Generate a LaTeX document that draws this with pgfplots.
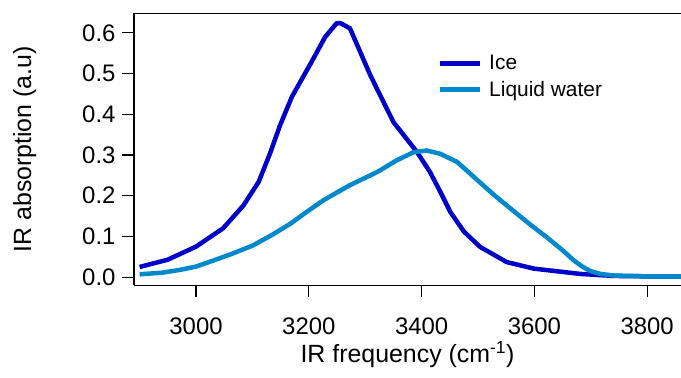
\documentclass[border=0pt]{standalone}
\usepackage{fontspec}
\setmainfont{Liberation Sans}
\usepackage{pgfplots}
\pgfplotsset{compat=1.18}
\definecolor{icecol}{RGB}{0,0,200}
\definecolor{liqcol}{RGB}{0,136,204}
\begin{document}
\begin{tikzpicture}
\begin{axis}[
  name=ax,
  scale only axis,
  width=547bp, height=272bp,
  xmin=2890, xmax=3860,
  ymin=-0.02, ymax=0.648,
  axis y line*=left, axis x line*=box,
  xtick pos=bottom, ytick pos=left,
  tick align=outside,
  major tick length=12bp,
  xtick={3000,3200,3400,3600,3800},
  ytick={0,0.1,0.2,0.3,0.4,0.5,0.6},
  minor tick num=0,
  /pgf/number format/assume math mode=true,
  xticklabel style={/pgf/number format/1000 sep={}, font=\fontsize{24}{28}\selectfont, yshift=-17bp},
  yticklabel style={/pgf/number format/fixed, /pgf/number format/fixed zerofill, /pgf/number format/precision=1, font=\fontsize{24}{28}\selectfont, xshift=-3bp},
  xlabel={IR frequency (cm\textsuperscript{-1})},
  ylabel={IR absorption (a.u)},
  xlabel style={font=\fontsize{25}{28}\selectfont, at={(axis description cs:0.5,-0.284)}, anchor=base, inner sep=0pt},
  ylabel style={font=\fontsize{25}{28}\selectfont, at={(axis description cs:-0.2212,0.5)}, anchor=north, inner sep=0pt},
  axis line style={line width=1.2bp},
  every tick/.style={black, line width=1.2bp},
  legend style={draw=none, fill=none, at={(0.554,0.853)}, anchor=north west,
    font=\fontsize{21}{24}\selectfont, inner sep=0pt, row sep=6bp, column sep=5bp},
  legend cell align=left,
  legend image code/.code={\draw[#1, line width=5bp] (0bp,0bp) -- (40bp,0bp);},
]
\addplot[icecol, line width=4.5bp] coordinates {
(2900,0.025) (2950,0.043) (3000,0.075) (3048,0.120) (3084,0.176) (3111,0.234)
(3131,0.303) (3149,0.373) (3170,0.443) (3205,0.529) (3229,0.590) (3249,0.623)
(3256,0.624) (3273,0.611) (3309,0.496) (3350,0.381) (3392,0.307) (3415,0.258)
(3433,0.210) (3451,0.160) (3475,0.112) (3504,0.074) (3551,0.037) (3599,0.021)
(3681,0.008) (3741,0.003) (3860,0.001)
};
\addlegendentry{Ice}
\addplot[liqcol, line width=4.5bp] coordinates {
(2900,0.007) (2940,0.011) (2972,0.018) (3000,0.026) (3031,0.041) (3065,0.058)
(3101,0.078) (3135,0.104) (3167,0.131) (3196,0.160) (3226,0.189) (3250,0.208)
(3273,0.226) (3321,0.258) (3356,0.287) (3386,0.307) (3409,0.311) (3433,0.303)
(3463,0.283) (3504,0.232) (3530,0.200) (3560,0.166) (3590,0.132) (3622,0.098)
(3650,0.066) (3670,0.041) (3685,0.026) (3699,0.015) (3717,0.008) (3741,0.004)
(3800,0.002) (3860,0.001)
};
\addlegendentry{Liquid water}
\end{axis}
\pgfresetboundingbox
\path[use as bounding box] ([xshift=-134bp,yshift=-92bp]ax.south west) rectangle ([yshift=13.3bp]ax.north east);
\end{tikzpicture}
\end{document}
